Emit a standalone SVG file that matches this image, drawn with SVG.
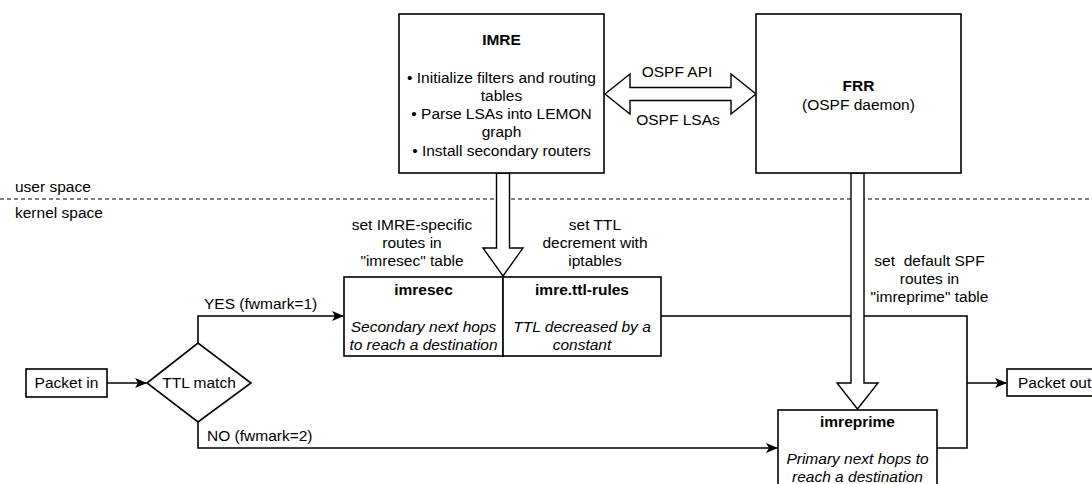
<svg xmlns="http://www.w3.org/2000/svg" width="1092" height="484" viewBox="0 0 1092 484">
<style>
text{font-family:"Liberation Sans",Arial,sans-serif;font-size:15.5px;fill:#000}
.c{text-anchor:middle}
.b{font-weight:bold}
.i{font-style:italic}
.box{fill:#fff;stroke:#000;stroke-width:1.6}
.fat{fill:#fff;stroke:#000;stroke-width:1.4;stroke-linejoin:miter}
.ln{fill:none;stroke:#000;stroke-width:1.6}
</style>
<defs>
<marker id="arr" viewBox="0 0 12 10" refX="11" refY="5" markerWidth="12" markerHeight="10" markerUnits="userSpaceOnUse" orient="auto">
<path d="M0,0 L12,5 L0,10 L3,5 Z" fill="#000"/>
</marker>
</defs>
<rect width="1092" height="484" fill="#fff"/>

<g id="separator">
<line x1="0" y1="199" x2="1092" y2="199" stroke="#000" stroke-width="1" stroke-dasharray="4,3"/>
<text x="15" y="192">user space</text>
<text x="15" y="218">kernel space</text>
</g>

<g id="connectors">
<path class="ln" d="M107,383 H146" marker-end="url(#arr)"/>
<path class="ln" d="M198,343 V316 H343" marker-end="url(#arr)"/>
<path class="ln" d="M198,422 V448 H777" marker-end="url(#arr)"/>
<path class="ln" d="M661,316 H967 V448 H937"/>
<path class="ln" d="M967,383 H1006" marker-end="url(#arr)"/>
<text x="204" y="309">YES (fwmark=1)</text>
<text x="207" y="441">NO (fwmark=2)</text>
<path class="fat" d="M605,94 L630,74 L630,87.5 L731,87.5 L731,74 L756,94 L731,114 L731,100.5 L630,100.5 L630,114 Z"/>
<text class="c" x="677" y="77">OSPF API</text>
<text class="c" x="678" y="125">OSPF LSAs</text>
<path class="fat" d="M496.5,173 V248 H483 L503,276 L523,248 H509.5 V173 Z"/>
<path class="fat" d="M851,173 V383 H837 L857.5,409 L878,383 H864 V173 Z"/>
<text class="c" x="412" y="230">set IMRE-specific</text>
<text class="c" x="412" y="248">routes in</text>
<text class="c" x="412" y="266">"imresec" table</text>
<text class="c" x="595" y="230">set TTL</text>
<text class="c" x="595" y="248">decrement with</text>
<text class="c" x="595" y="266">iptables</text>
<text class="c" x="929.5" y="266" style="white-space:pre">set  default SPF</text>
<text class="c" x="929.5" y="284">routes in</text>
<text class="c" x="929.5" y="302">"imreprime" table</text>
</g>

<g id="imre">
<rect class="box" x="399" y="14" width="205" height="159"/>
<text class="c b" x="501.5" y="45">IMRE</text>
<text class="c" x="501.5" y="82.5">• Initialize filters and routing</text>
<text class="c" x="501.5" y="100.5">tables</text>
<text class="c" x="501.5" y="118.5">• Parse LSAs into LEMON</text>
<text class="c" x="501.5" y="137">graph</text>
<text class="c" x="501.5" y="155.5">• Install secondary routers</text>
</g>

<g id="frr">
<rect class="box" x="756" y="14" width="205" height="159"/>
<text class="c b" x="858.5" y="91">FRR</text>
<text class="c" x="858.5" y="110">(OSPF daemon)</text>
</g>

<g id="packet-in">
<rect class="box" x="26" y="369" width="81" height="28"/>
<text class="c" x="66.5" y="388">Packet in</text>
</g>

<g id="ttl-match">
<polygon class="box" points="147,383 198,343 251,383 198,422"/>
<text class="c" x="199" y="388">TTL match</text>
</g>

<g id="imresec">
<rect class="box" x="344" y="277" width="159" height="79"/>
<text class="c b" x="423.5" y="295">imresec</text>
<text class="c i" x="423.5" y="332">Secondary next hops</text>
<text class="c i" x="423.5" y="349.5">to reach a destination</text>
</g>

<g id="imre-ttl-rules">
<rect class="box" x="503" y="277" width="158" height="79"/>
<text class="c b" x="582" y="295">imre.ttl-rules</text>
<text class="c i" x="582" y="332">TTL decreased by a</text>
<text class="c i" x="582" y="349.5">constant</text>
</g>

<g id="imreprime">
<rect class="box" x="778" y="410" width="159" height="80"/>
<text class="c b" x="857.5" y="427">imreprime</text>
<text class="c i" x="857.5" y="464">Primary next hops to</text>
<text class="c i" x="857.5" y="482">reach a destination</text>
</g>

<g id="packet-out">
<rect class="box" x="1007" y="369" width="90" height="27"/>
<text x="1018" y="388">Packet out</text>
</g>
</svg>
